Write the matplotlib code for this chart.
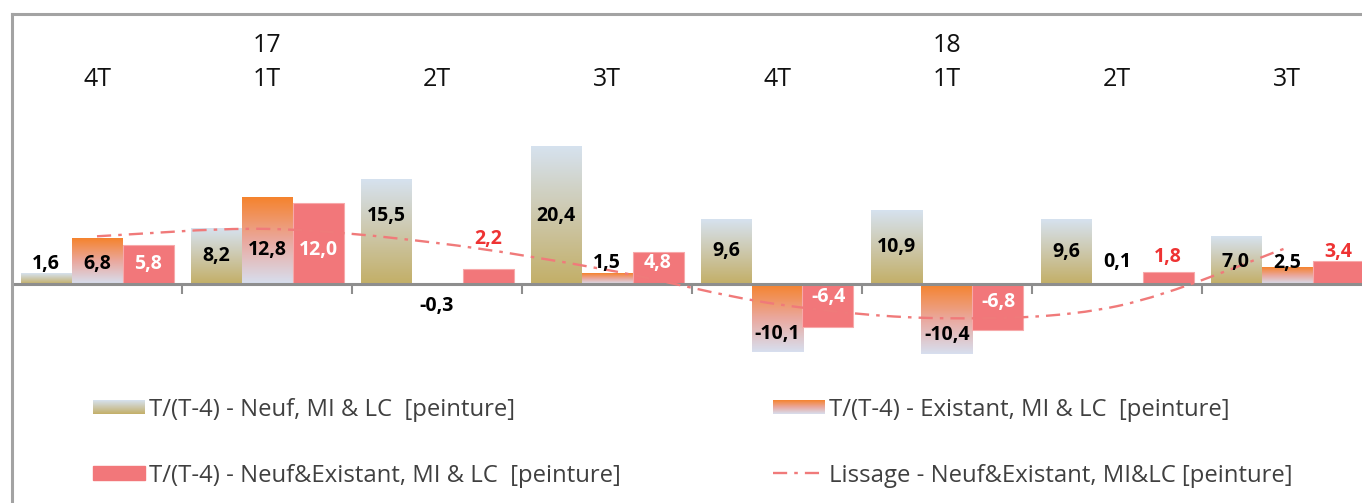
import matplotlib
matplotlib.use("Agg")
import matplotlib.pyplot as plt
import numpy as np
from matplotlib.colors import LinearSegmentedColormap
from matplotlib.lines import Line2D
from matplotlib.path import Path
from matplotlib.patches import PathPatch

plt.rcParams["font.family"] = ["Open Sans", "DejaVu Sans"]

W, H = 1362, 503

# ---------------------------------------------------------------- data
quarters = ["4T", "1T", "2T", "3T", "4T", "1T", "2T", "3T"]
years = ["", "17", "", "", "", "18", "", ""]
neuf = [1.6, 8.2, 15.5, 20.4, 9.6, 10.9, 9.6, 7.0]
existant = [6.8, 12.8, -0.3, 1.5, -10.1, -10.4, 0.1, 2.5]
neuf_exist = [5.8, 12.0, 2.2, 4.8, -6.4, -6.8, 1.8, 3.4]
lissage = [7.1, 8.2, 6.1, 2.1, -3.0, -5.1, -3.3, 5.4]

series_labels = [
    "T/(T-4) - Neuf, MI & LC  [peinture]",
    "T/(T-4) - Existant, MI & LC  [peinture]",
    "T/(T-4) - Neuf&Existant, MI & LC  [peinture]",
    "Lissage - Neuf&Existant, MI&LC [peinture]",
]

# data-label positions (value units), placed by hand like in the original
lab_y_neuf = [3.0, 4.2, 10.1, 10.1, 4.9, 5.5, 4.8, 3.3]
lab_y_exist = [3.0, 5.1, -3.3, 3.1, -7.4, -7.6, 3.3, 3.1]
lab_y_ne = [3.0, 5.1, 6.7, 3.1, -1.9, -2.7, 4.0, 4.8]
lab_c_ne = ["white", "white", "red", "white", "white", "white", "red", "red"]

# ---------------------------------------------------------------- styles
RED_TXT = "#ee3333"
NE_COL = "#f2777a"
LISS_COL = "#f07a7a"
cmap_neuf = LinearSegmentedColormap.from_list(
    "neuf", [(0, "#c3af67"), (0.5, "#cdc8ac"), (1, "#d6e2ef")])
cmap_exist = LinearSegmentedColormap.from_list(
    "exist", [(0, "#d7dfef"), (0.5, "#eaa89e"), (1, "#f5832d")])

PX_UNIT = 6.72          # pixels per percentage point
ZERO_PX = 284           # pixel row of the zero line
ymax = ZERO_PX / PX_UNIT
ymin = -(H - ZERO_PX) / PX_UNIT

fig = plt.figure(figsize=(W / 100, H / 100), dpi=100)
ax = fig.add_axes([12 / W, 0, 1360 / W, 1])
ax.set_xlim(-0.5, 7.5)
ax.set_ylim(ymin, ymax)
ax.axis("off")

x = np.arange(len(neuf))
bw = 0.3
grad = np.linspace(0, 1, 256).reshape(-1, 1)


def grad_bar(xc, v, cmap):
    lo, hi = min(0, v), max(0, v)
    ax.imshow(grad, extent=(xc - bw / 2, xc + bw / 2, lo, hi), origin="lower",
              aspect="auto", cmap=cmap, interpolation="bilinear", zorder=2)


for i in x:
    grad_bar(i - bw, neuf[i], cmap_neuf)
    grad_bar(i, existant[i], cmap_exist)
ax.bar(x + bw, neuf_exist, width=bw, color=NE_COL, edgecolor="#f7a9aa",
       linewidth=0.8, zorder=2)
ax.set_xlim(-0.5, 7.5)
ax.set_ylim(ymin, ymax)

# zero line and category separators
ax.axhline(0, color="#8e8e8e", lw=2.2, zorder=3)
ax.vlines(np.arange(0.5, 7.5, 1.0), -1.5, 0, color="#8e8e8e", lw=1.5, zorder=3)

# smoothed line (Catmull-Rom as cubic Bezier segments)
pts = np.column_stack([x, lissage]).astype(float)
ext = np.vstack([pts[0], pts, pts[-1]])
verts, codes = [tuple(pts[0])], [Path.MOVETO]
for k in range(1, len(ext) - 2):
    p0, p1, p2, p3 = ext[k - 1], ext[k], ext[k + 1], ext[k + 2]
    verts += [tuple(p1 + (p2 - p0) / 6), tuple(p2 - (p3 - p1) / 6), tuple(p2)]
    codes += [Path.CURVE4] * 3
ax.add_patch(PathPatch(Path(verts, codes), fill=False, edgecolor=LISS_COL, lw=1.7,
                       linestyle=(0, (6, 3, 1.5, 3)), zorder=4))


def fmt(v):
    return f"{v:.1f}".replace(".", ",")


lab_kw = dict(ha="center", va="center", fontsize=14, fontweight="bold", zorder=5)
for i in x:
    ax.text(i - bw, lab_y_neuf[i], fmt(neuf[i]), color="black", **lab_kw)
    ax.text(i, lab_y_exist[i], fmt(existant[i]), color="black", **lab_kw)
    c = RED_TXT if lab_c_ne[i] == "red" else "white"
    ax.text(i + bw, lab_y_ne[i], fmt(neuf_exist[i]), color=c, **lab_kw)

# category labels at the top
for i in x:
    ax.text(i, (ZERO_PX - 80) / PX_UNIT, quarters[i], ha="center", va="center",
            fontsize=18, color="#111111")
    if years[i]:
        ax.text(i, (ZERO_PX - 46) / PX_UNIT, years[i], ha="center", va="center",
                fontsize=18, color="#111111")

# ---------------------------------------------------------------- legend (pixel overlay)
lax = fig.add_axes([0, 0, 1, 1])
lax.set_xlim(0, W)
lax.set_ylim(H, 0)
lax.axis("off")
lax.patch.set_alpha(0)

leg = [(93, 407, "neuf"), (773, 407, "exist"), (93, 473, "ne"), (773, 473, "liss")]
for (lx, ly, kind), text in zip(leg, series_labels):
    if kind == "neuf":
        lax.imshow(grad, extent=(lx, lx + 52, ly + 7, ly - 7), origin="lower",
                   aspect="auto", cmap=cmap_neuf, interpolation="bilinear")
    elif kind == "exist":
        lax.imshow(grad, extent=(lx, lx + 52, ly + 7, ly - 7), origin="lower",
                   aspect="auto", cmap=cmap_exist, interpolation="bilinear")
    elif kind == "ne":
        lax.add_patch(plt.Rectangle((lx, ly - 7), 52, 14, color=NE_COL))
    else:
        lax.add_line(Line2D([lx, lx + 52], [ly, ly], color=LISS_COL, lw=1.7,
                            linestyle=(0, (6, 3, 1.5, 3))))
    lax.text(lx + 56, ly + 2.5, text, ha="left", va="center", fontsize=17.2,
             color="#404040")
lax.set_xlim(0, W)
lax.set_ylim(H, 0)

# chart border (top and left edges visible in the crop)
lax.add_line(Line2D([12, W], [14, 14], color="#a3a3a3", lw=2.2))
lax.add_line(Line2D([12, 12], [14, H], color="#a3a3a3", lw=2.2))

fig.savefig("out.png", dpi=100)
